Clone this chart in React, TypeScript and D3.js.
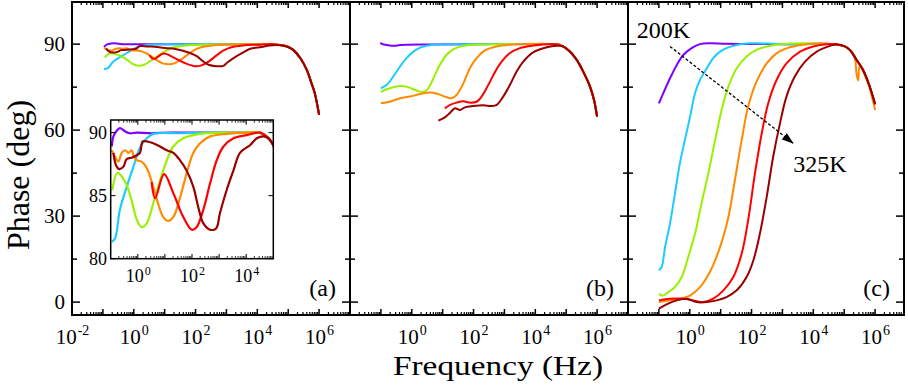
import React from 'react';
import * as d3 from 'd3';

// each point: [log10(f / Hz), phase (deg)]
type Pt = [number, number];

const temps = ['200K', '225K', '250K', '275K', '300K', '325K'];
const colors = ['#8000ff', '#1ecbff', '#99f000', '#ff8a00', '#ff0000', '#9a0000'];

// panel (a) - also shown in the inset
const a200: Pt[] = [[-0.96, 88.9], [-0.9, 89.7], [-0.78, 90.15], [-0.66, 90.35], [-0.47, 90.1], [-0.29, 89.95], [-0.04, 90.0], [0.5, 89.95], [1.2, 90.0], [2.05, 90.0], [3.0, 90.0], [4.0, 90.0], [4.5, 90.0], [4.8, 89.6], [5.0, 89.0]];
const a225: Pt[] = [[-0.96, 81.35], [-0.84, 81.6], [-0.66, 83.9], [-0.41, 85.7], [-0.16, 87.3], [0.08, 88.8], [0.33, 89.55], [0.57, 89.9], [1.5, 89.95], [3.0, 90.0], [4.0, 90.0], [4.5, 90.0], [4.8, 89.6], [5.0, 89.0]];
const a250: Pt[] = [[-0.94, 85.45], [-0.75, 86.8], [-0.47, 86.1], [-0.23, 84.65], [-0.04, 83.1], [0.14, 82.5], [0.33, 82.8], [0.57, 84.4], [0.82, 86.2], [1.07, 87.8], [1.31, 88.9], [1.68, 89.55], [2.3, 89.9], [3.28, 90.0], [4.0, 90.0], [4.5, 90.0], [4.8, 89.6], [5.0, 89.0]];
const a275: Pt[] = [[-0.96, 88.6], [-0.84, 88.1], [-0.72, 87.7], [-0.59, 88.4], [-0.47, 88.6], [-0.35, 88.4], [-0.23, 88.6], [-0.14, 88.1], [-0.02, 87.8], [0.14, 87.7], [0.27, 87.4], [0.39, 86.9], [0.57, 85.7], [0.76, 84.3], [0.94, 83.3], [1.13, 83.0], [1.31, 83.3], [1.5, 84.4], [1.68, 85.8], [1.87, 87.3], [2.05, 88.4], [2.3, 89.15], [2.67, 89.7], [3.28, 89.9], [4.02, 90.0], [4.5, 90.0], [4.8, 89.6], [5.0, 89.0]];
const a300: Pt[] = [[0.51, 86.1], [0.64, 84.8], [0.97, 86.7], [1.31, 85.2], [1.68, 83.3], [1.99, 82.3], [2.17, 82.5], [2.42, 83.9], [2.67, 86.0], [2.91, 87.8], [3.16, 88.9], [3.53, 89.55], [4.02, 89.8], [4.51, 90.0], [4.8, 89.6], [5.0, 89.0]];
const a325: Pt[] = [[-0.9, 88.4], [-0.8, 87.4], [-0.68, 87.1], [-0.53, 87.3], [-0.41, 87.9], [-0.23, 88.0], [-0.04, 88.2], [0.08, 88.4], [0.18, 89.3], [0.33, 89.3], [0.57, 89.15], [0.82, 88.9], [1.07, 88.6], [1.31, 88.4], [1.56, 87.8], [1.8, 87.0], [2.05, 85.7], [2.23, 84.1], [2.42, 82.8], [2.67, 82.3], [2.89, 82.4], [3.03, 83.6], [3.28, 85.45], [3.53, 87.0], [3.77, 88.4], [4.14, 89.0], [4.39, 89.55], [4.63, 89.7], [4.82, 89.55], [5.0, 89.0]];
const tailA: Pt[] = [[5.16, 88.0], [5.4, 85.0], [5.6, 81.0], [5.75, 76.5], [5.86, 72.9], [6.0, 65.3]];

// panel (b)
const b200: Pt[] = [[-1.0, 90.6], [-0.98, 90.1], [-0.81, 89.7], [-0.54, 89.4], [-0.38, 89.7], [0.48, 89.9], [2.0, 90.0], [4.0, 90.0], [4.6, 90.0], [4.8, 89.7]];
const b225: Pt[] = [[-1.0, 74.6], [-0.81, 75.8], [-0.6, 78.7], [-0.38, 82.2], [-0.17, 85.1], [0.05, 87.4], [0.27, 88.8], [0.48, 89.4], [0.8, 89.9], [1.56, 90.0], [4.0, 90.0], [4.6, 90.0], [4.8, 89.7]];
const b250: Pt[] = [[-1.0, 73.4], [-0.71, 74.6], [-0.38, 75.4], [-0.11, 75.0], [0.16, 73.8], [0.37, 73.3], [0.54, 74.6], [0.7, 78.1], [0.91, 82.8], [1.13, 86.3], [1.34, 88.2], [1.67, 89.4], [2.21, 89.9], [2.86, 90.0], [4.0, 90.0], [4.6, 90.0], [4.8, 89.7]];
const b275: Pt[] = [[-1.0, 69.35], [-0.71, 69.9], [-0.38, 71.1], [-0.06, 71.7], [0.27, 72.6], [0.59, 73.1], [0.8, 72.8], [1.07, 71.7], [1.29, 71.1], [1.45, 72.3], [1.67, 76.3], [1.88, 81.6], [2.1, 85.1], [2.37, 87.8], [2.74, 89.2], [3.28, 89.9], [4.15, 90.1], [4.6, 90.0], [4.8, 89.7]];
const b300: Pt[] = [[1.07, 67.6], [1.24, 68.8], [1.45, 69.6], [1.67, 70.05], [1.88, 69.6], [2.1, 69.9], [2.26, 71.7], [2.48, 75.8], [2.7, 80.4], [2.91, 83.9], [3.18, 86.9], [3.5, 88.6], [3.93, 89.5], [4.47, 90.0], [4.8, 89.7]];
const b325: Pt[] = [[0.86, 63.3], [1.07, 64.45], [1.24, 66.1], [1.4, 67.6], [1.56, 67.0], [1.72, 67.95], [1.99, 68.4], [2.32, 68.65], [2.58, 68.4], [2.75, 68.8], [2.96, 71.7], [3.18, 75.8], [3.39, 80.4], [3.61, 83.9], [3.93, 87.1], [4.37, 88.9], [4.69, 89.4], [4.9, 89.2]];
const tailB: Pt[] = [[5.1, 87.6], [5.34, 84.5], [5.55, 80.4], [5.77, 75.2], [5.9, 70.5], [6.0, 64.7]];

// panel (c)
const c200: Pt[] = [[-1.0, 69.35], [-0.86, 72.8], [-0.64, 78.1], [-0.42, 82.75], [-0.21, 86.2], [0.06, 88.6], [0.33, 90.0], [0.65, 90.3], [1.19, 90.1], [3.0, 90.0], [4.65, 90.0]];
const c225: Pt[] = [[-1.0, 11.1], [-0.91, 12.25], [-0.8, 19.2], [-0.64, 27.4], [-0.48, 37.9], [-0.32, 48.4], [-0.16, 56.5], [0.01, 64.7], [0.17, 72.85], [0.33, 77.5], [0.55, 81.6], [0.76, 85.1], [0.98, 87.4], [1.19, 88.6], [1.52, 89.7], [1.95, 90.3], [3.0, 90.0], [4.65, 90.0]];
const c250: Pt[] = [[-1.0, 2.9], [-0.86, 2.3], [-0.69, 3.5], [-0.48, 5.25], [-0.26, 8.75], [-0.05, 15.75], [0.17, 23.9], [0.38, 34.4], [0.6, 44.9], [0.82, 56.5], [1.03, 67.0], [1.25, 75.2], [1.52, 81.6], [1.84, 85.7], [2.16, 88.0], [2.6, 89.4], [3.13, 90.1], [4.65, 90.0]];
const c275: Pt[] = [[-1.0, 0.0], [-0.64, 0.6], [-0.32, 1.2], [0.01, 2.3], [0.33, 5.2], [0.65, 10.5], [0.98, 19.2], [1.25, 29.7], [1.46, 42.5], [1.68, 56.5], [1.89, 68.2], [2.16, 76.9], [2.49, 83.3], [2.81, 86.8], [3.24, 88.9], [3.78, 90.0], [4.65, 90.0]];
const c300: Pt[] = [[-1.0, 0.6], [-0.64, 1.2], [-0.21, 1.2], [0.11, 0.6], [0.44, 0.0], [0.76, 1.2], [1.09, 4.1], [1.41, 8.75], [1.68, 16.9], [1.89, 28.6], [2.11, 44.9], [2.33, 58.9], [2.54, 69.4], [2.81, 77.5], [3.13, 83.3], [3.57, 87.4], [4.0, 89.2], [4.43, 90.0], [4.65, 90.0]];
const c325: Pt[] = [[-1.0, -2.3], [-0.75, -0.8], [-0.42, 0.6], [-0.1, 1.2], [0.22, 0.0], [0.55, 0.0], [0.87, 0.6], [1.19, 1.75], [1.52, 4.1], [1.84, 8.75], [2.06, 14.6], [2.27, 23.9], [2.49, 36.7], [2.7, 50.7], [2.92, 62.35], [3.13, 71.7], [3.4, 78.7], [3.73, 83.9], [4.11, 87.4], [4.54, 89.4], [4.75, 90.0]];
const tailC: Pt[] = [[5.0, 89.3], [5.18, 88.0], [5.4, 84.5], [5.61, 81.0], [5.8, 76.0], [6.0, 69.0]];
const tailC275: Pt[] = [[5.0, 89.3], [5.18, 88.0], [5.33, 86.0], [5.4, 79.5], [5.45, 77.3], [5.5, 82.5], [5.61, 80.5], [5.8, 75.5], [6.0, 67.0]];

const panelA = [a200, a225, a250, a275, a300, a325].map((s) => s.concat(tailA));
const panelB = [b200, b225, b250, b275, b300, b325].map((s) => s.concat(tailB));
const panelC = [
  c200.concat(tailC), c225.concat(tailC), c250.concat(tailC),
  c275.concat(tailC275), c300.concat(tailC), c325.concat(tailC),
];
const panels = [panelA, panelB, panelC];
const panelNames = ['(a)', '(b)', '(c)'];

const yMajor = [0, 30, 60, 90];
const yMinor = [15, 45, 75];
const xLabelExp = [[-2, 0, 2, 4, 6], [0, 2, 4, 6], [0, 2, 4, 6]];
const insetYTicks = [80, 85, 90];
const insetXLabelExp = [0, 2, 4];

const FONT = 'Liberation Serif, Times New Roman, Times, serif';
const top = 2;
const bottom = 315;
const lefts = [72, 350, 628];
const rights = [350, 628, 904];
const pw = 278;

// "10" with a raised exponent, centred on x as a whole
function PowLabel({ x, y, e, size, supSize, rise }: { x: number; y: number; e: number; size: number; supSize: number; rise: number }) {
  const baseW = size; // two digits, 0.5em each
  const supW = (e < 0 ? 0.83 : 0.5) * supSize;
  const start = x - (baseW + supW) / 2;
  return (
    <g>
      <text x={start} y={y} fontSize={size} style={{ fontFamily: FONT }}>10</text>
      <text x={start + baseW + 1} y={y - rise} fontSize={supSize} style={{ fontFamily: FONT }}>{e}</text>
    </g>
  );
}

export default function App() {
  const y = d3.scaleLinear().domain([-4.5, 104.7]).range([bottom, top]);

  const decades = d3.range(-2, 8);
  const minorVals: number[] = [];
  decades.forEach((e) => d3.range(2, 10).forEach((m) => minorVals.push(m * 10 ** e)));

  const renderPanel = (i: number) => {
    const L = lefts[i];
    const R = rights[i];
    const x = d3.scaleLog().domain([1e-2, 1e7]).range([L, L + pw]);
    const line = d3
      .line<Pt>()
      .x((d) => x(10 ** d[0]))
      .y((d) => y(d[1]))
      .curve(d3.curveCatmullRom.alpha(0.5));
    const majors = decades.map((e) => 10 ** e).filter((v) => x(v) <= R - 1 && x(v) >= L + 1);
    const minors = minorVals.filter((v) => x(v) < R - 1 && x(v) > L + 1);
    return (
      <g key={i}>
        {panels[i].map((s, k) => (
          <path key={temps[k]} d={line(s) || ''} fill="none" stroke={colors[k]} strokeWidth={2} strokeLinejoin="round" />
        ))}
        {majors.map((v) => (
          <g key={'M' + v}>
            <line x1={x(v)} x2={x(v)} y1={bottom} y2={bottom - 6} stroke="#000" strokeWidth={1.5} />
            <line x1={x(v)} x2={x(v)} y1={top} y2={top + 6} stroke="#000" strokeWidth={1.5} />
          </g>
        ))}
        {minors.map((v) => (
          <g key={'m' + v}>
            <line x1={x(v)} x2={x(v)} y1={bottom} y2={bottom - 3} stroke="#000" strokeWidth={1.2} />
            <line x1={x(v)} x2={x(v)} y1={top} y2={top + 3} stroke="#000" strokeWidth={1.2} />
          </g>
        ))}
        {yMajor.map((v) => (
          <g key={'ym' + v}>
            <line x1={L} x2={L + 8} y1={y(v)} y2={y(v)} stroke="#000" strokeWidth={1.5} />
            <line x1={R} x2={R - 8} y1={y(v)} y2={y(v)} stroke="#000" strokeWidth={1.5} />
          </g>
        ))}
        {yMinor.map((v) => (
          <g key={'yn' + v}>
            <line x1={L} x2={L + 5} y1={y(v)} y2={y(v)} stroke="#000" strokeWidth={1.5} />
            <line x1={R} x2={R - 5} y1={y(v)} y2={y(v)} stroke="#000" strokeWidth={1.5} />
          </g>
        ))}
        <rect x={L} y={top} width={R - L} height={bottom - top} fill="none" stroke="#000" strokeWidth={2} />
        {xLabelExp[i].map((e) => (
          <PowLabel key={'xl' + e} x={x(10 ** e)} y={344} e={e} size={21} supSize={14} rise={9} />
        ))}
        <text x={R - 14} y={296} textAnchor="end" fontSize={24} style={{ fontFamily: FONT }}>
          {panelNames[i]}
        </text>
      </g>
    );
  };

  // inset of panel (a)
  const ix = d3.scaleLog().domain([0.1, 1e5]).range([110.7, 273.3]);
  const iy = d3.scaleLinear().domain([80, 91]).range([258.7, 120]);
  const iLine = d3
    .line<Pt>()
    .x((d) => ix(10 ** d[0]))
    .y((d) => iy(d[1]))
    .curve(d3.curveCatmullRom.alpha(0.5));
  const iMajors = d3.range(-1, 6).map((e) => 10 ** e).filter((v) => v > 0.1 && v < 1e5);
  const iMinors = minorVals.filter((v) => v > 0.1 && v < 1e5);

  // panel (c) annotation
  const xc = d3.scaleLog().domain([1e-2, 1e7]).range([lefts[2], lefts[2] + pw]);
  const arrowStart: Pt = [-0.64, 89.2];
  const arrowEnd: Pt = [3.34, 55.5];

  return (
    <svg width={908} height={388} style={{ position: 'absolute', left: 0, top: 0, background: '#fff' }}>
      <defs>
        <clipPath id="insetClip">
          <rect x={110.7} y={120} width={162.6} height={138.7} />
        </clipPath>
        <marker id="arrowHead" viewBox="0 0 12 8" refX={11} refY={4} markerWidth={12} markerHeight={8} markerUnits="userSpaceOnUse" orient="auto">
          <path d="M0,0 L12,4 L0,8 Z" fill="#000" />
        </marker>
      </defs>
      {[0, 1, 2].map(renderPanel)}

      {yMajor.map((v) => (
        <text key={'yl' + v} x={65} y={y(v) + 7} textAnchor="end" fontSize={21} style={{ fontFamily: FONT }}>
          {v}
        </text>
      ))}
      <text transform={`translate(29,175) rotate(-90)`} textAnchor="middle" fontSize={32} style={{ fontFamily: FONT }}>
        Phase (deg)
      </text>
      <text x={393} y={375} fontSize={28} textLength={210} lengthAdjust="spacingAndGlyphs" style={{ fontFamily: FONT }}>
        Frequency (Hz)
      </text>

      {/* inset */}
      <rect x={110.7} y={120} width={162.6} height={138.7} fill="#fff" />
      <g clipPath="url(#insetClip)">
        {panelA.map((s, k) => (
          <path key={temps[k]} d={iLine(s) || ''} fill="none" stroke={colors[k]} strokeWidth={2.2} strokeLinejoin="round" />
        ))}
      </g>
      {iMajors.map((v) => (
        <g key={'iM' + v}>
          <line x1={ix(v)} x2={ix(v)} y1={258.7} y2={254} stroke="#000" strokeWidth={1} />
          <line x1={ix(v)} x2={ix(v)} y1={120} y2={124.7} stroke="#000" strokeWidth={1} />
        </g>
      ))}
      {iMinors.map((v) => (
        <g key={'im' + v}>
          <line x1={ix(v)} x2={ix(v)} y1={258.7} y2={256} stroke="#000" strokeWidth={0.8} />
          <line x1={ix(v)} x2={ix(v)} y1={120} y2={122.7} stroke="#000" strokeWidth={0.8} />
        </g>
      ))}
      {insetYTicks.map((v) => (
        <g key={'iy' + v}>
          <line x1={110.7} x2={115.5} y1={iy(v)} y2={iy(v)} stroke="#000" strokeWidth={1} />
          <line x1={273.3} x2={268.5} y1={iy(v)} y2={iy(v)} stroke="#000" strokeWidth={1} />
          <text x={107} y={iy(v) + 6} textAnchor="end" fontSize={18} style={{ fontFamily: FONT }}>
            {v}
          </text>
        </g>
      ))}
      <rect x={110.7} y={120} width={162.6} height={138.7} fill="none" stroke="#000" strokeWidth={1.5} />
      {insetXLabelExp.map((e) => (
        <PowLabel key={'ixl' + e} x={ix(10 ** e)} y={281.5} e={e} size={18} supSize={12} rise={7} />
      ))}

      <line
        x1={xc(10 ** arrowStart[0])}
        y1={y(arrowStart[1])}
        x2={xc(10 ** arrowEnd[0])}
        y2={y(arrowEnd[1])}
        stroke="#000"
        strokeWidth={1.3}
        strokeDasharray="3,2"
        markerEnd="url(#arrowHead)"
      />
      <text x={xc(10 ** -1.72)} y={y(92.15)} fontSize={24} style={{ fontFamily: FONT }}>
        {temps[0]}
      </text>
      <text x={xc(10 ** 3.35)} y={y(45.5)} fontSize={24} style={{ fontFamily: FONT }}>
        {temps[5]}
      </text>
    </svg>
  );
}
